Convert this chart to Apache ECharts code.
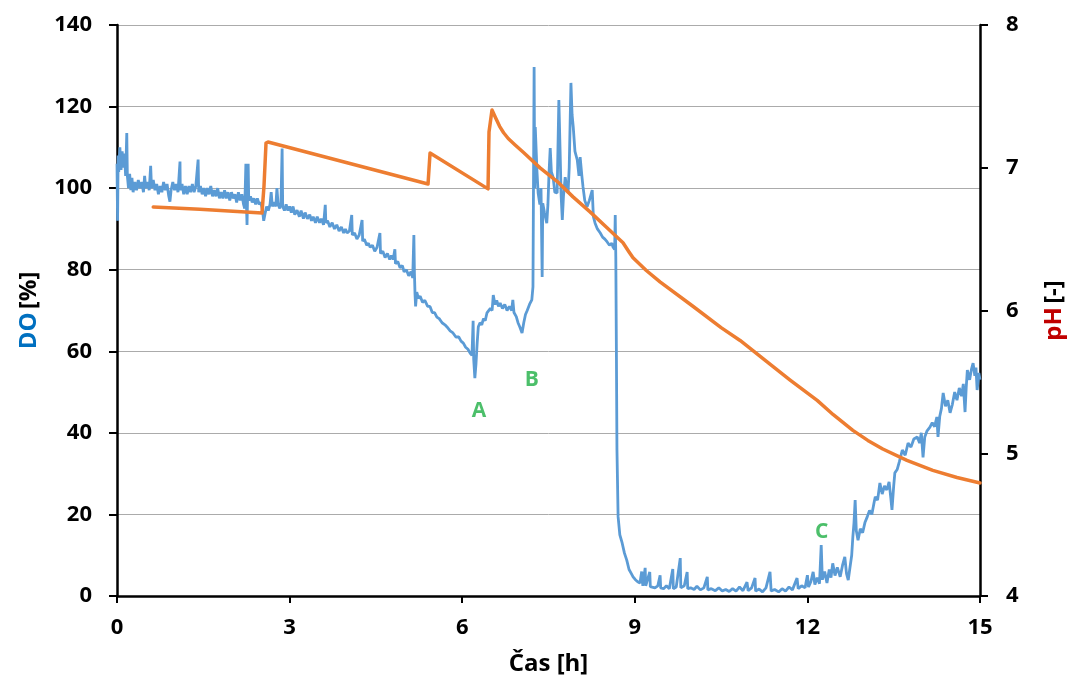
<!DOCTYPE html>
<html>
<head>
<meta charset="utf-8">
<script src="https://cdn.jsdelivr.net/npm/echarts@6/dist/echarts.min.js"></script>
<style>
html,body{margin:0;padding:0;background:#fff;overflow:hidden;}
#chart{width:1069px;height:680px;}
</style>
</head>
<body>
<div id="chart"></div>
<script>
// Time axis ticks [h]
const timeTicks = [0, 3, 6, 9, 12, 15];
// Dissolved oxygen [%] vs time [h]
const doSeries = [
[0.00,106],[0.01,92],[0.02,108],[0.03,104],[0.05,110],[0.07,104.5],[0.09,109],[0.11,105],[0.13,108.5],[0.15,103],[0.17,113.5],[0.18,103],[0.20,100],[0.22,103.5],[0.24,99.5],[0.26,102.5],[0.28,99],[0.31,101.5],[0.34,99.5],[0.37,102],[0.40,100],[0.43,101.5],[0.46,99],[0.48,103],[0.50,100],[0.53,101.5],[0.56,99.5],[0.585,105.5],[0.60,100],[0.63,102],[0.66,99.5],[0.69,101],[0.72,98.5],[0.75,100.5],[0.78,99],[0.81,101.5],[0.84,99.5],[0.87,101],[0.90,98],[0.92,96.7],[0.94,99.5],[0.97,101.5],[1.00,99.5],[1.03,101],[1.06,99],[1.095,106.5],[1.10,99.5],[1.13,101],[1.16,98.5],[1.19,100.5],[1.22,98.5],[1.25,100.5],[1.28,99],[1.31,101],[1.34,99],[1.37,100.5],[1.41,107],[1.42,99],[1.45,100.5],[1.48,98.5],[1.51,100],[1.54,98],[1.57,100],[1.60,98.5],[1.63,100.5],[1.66,98],[1.69,99.5],[1.72,98],[1.75,100],[1.78,97.5],[1.81,99],[1.84,97.5],[1.87,99.5],[1.90,97.5],[1.93,99],[1.96,97],[1.99,99],[2.02,97.5],[2.05,98.5],[2.08,96.5],[2.11,99],[2.14,97],[2.17,98.5],[2.20,96],[2.22,95],[2.24,106],[2.25,96],[2.26,91],[2.27,98],[2.28,106],[2.29,97],[2.32,98],[2.35,96.5],[2.38,97.5],[2.41,96],[2.44,97.5],[2.47,96],[2.50,96.5],[2.53,94.5],[2.55,92],[2.57,93.5],[2.60,95.5],[2.63,94.5],[2.66,96],[2.68,99],[2.70,95.5],[2.73,96.5],[2.76,95.5],[2.78,100],[2.80,96],[2.83,95],[2.85,96.5],[2.87,109.7],[2.88,95.5],[2.91,94.5],[2.94,96],[2.97,94.5],[3.00,95.5],[3.03,94],[3.06,95.5],[3.09,93.5],[3.13,94.6],[3.17,93],[3.20,94.5],[3.24,92.5],[3.27,94],[3.31,92.5],[3.35,93.5],[3.38,92],[3.41,93],[3.45,91.5],[3.48,93],[3.52,91.5],[3.55,92.5],[3.59,91],[3.62,95.9],[3.63,91.5],[3.66,92],[3.70,90.5],[3.74,91.5],[3.78,90],[3.82,91],[3.86,89.5],[3.90,90.5],[3.94,89],[3.97,90],[4.00,89],[4.04,89.5],[4.08,93.4],[4.09,88.5],[4.13,89],[4.17,87.5],[4.21,88.5],[4.26,92.2],[4.27,87],[4.30,87.5],[4.34,86],[4.37,86.5],[4.40,85.5],[4.44,86],[4.48,84.5],[4.52,85.5],[4.57,89],[4.58,84],[4.62,84.5],[4.66,83],[4.70,84],[4.74,82.5],[4.77,83.5],[4.80,82.5],[4.83,85],[4.84,81.5],[4.88,82],[4.92,80.5],[4.96,81],[4.99,79.5],[5.03,80],[5.07,78.5],[5.11,79.5],[5.14,78],[5.16,88.5],[5.17,79],[5.18,74],[5.19,71],[5.21,74.5],[5.24,73],[5.27,73.5],[5.31,72],[5.35,72.5],[5.40,71],[5.44,71],[5.48,69.5],[5.52,69.5],[5.56,68.4],[5.60,68],[5.65,67],[5.70,66.5],[5.74,65.9],[5.79,65],[5.84,64.5],[5.89,63.5],[5.94,63.5],[5.98,62.5],[6.02,62],[6.06,61],[6.10,60.5],[6.14,59.5],[6.17,59],[6.19,67.5],[6.20,58],[6.22,53.4],[6.24,57],[6.26,62],[6.28,66],[6.31,67],[6.34,66.5],[6.37,68],[6.40,67.5],[6.43,69.4],[6.46,69],[6.49,70.5],[6.52,70],[6.54,73.8],[6.57,71.5],[6.60,72.5],[6.63,71],[6.66,71.8],[6.70,70.5],[6.74,71.5],[6.78,70],[6.82,71],[6.86,70],[6.88,72.6],[6.90,69.5],[6.94,68.5],[6.97,67],[7.00,66],[7.04,64.5],[7.07,67],[7.10,69],[7.13,70],[7.17,71.5],[7.21,72.6],[7.23,75.8],[7.25,129.7],[7.26,100],[7.27,115],[7.30,104],[7.32,98.8],[7.35,96],[7.37,100],[7.39,78.2],[7.40,96.3],[7.43,94],[7.47,91.4],[7.49,96],[7.51,104],[7.53,109.8],[7.55,104],[7.58,102.7],[7.61,99],[7.65,98.8],[7.68,121.6],[7.70,110],[7.72,98],[7.74,92.2],[7.76,98],[7.79,102.7],[7.82,100],[7.84,98.8],[7.86,105],[7.89,125.8],[7.91,118],[7.93,115],[7.96,109],[8.00,106.9],[8.03,103],[8.05,107.6],[8.08,103],[8.10,100.3],[8.13,97],[8.17,95.4],[8.21,97],[8.26,99.5],[8.28,93],[8.31,91.4],[8.35,90],[8.40,89],[8.44,88],[8.48,87.5],[8.52,86.8],[8.56,86],[8.60,86.5],[8.62,85.6],[8.65,85],[8.66,93.4],[8.67,83],[8.68,60.3],[8.69,35.8],[8.71,19.4],[8.74,15],[8.78,13],[8.82,10.5],[8.86,8.8],[8.90,6.5],[8.94,5.5],[8.97,4.7],[9.01,4],[9.05,3.5],[9.09,3.2],[9.12,6],[9.14,2.5],[9.18,6.9],[9.19,2.5],[9.21,2.2],[9.26,5.9],[9.27,2.3],[9.30,2.5],[9.35,2],[9.40,2.5],[9.44,5.1],[9.45,2],[9.50,1.8],[9.55,2.5],[9.60,1.8],[9.66,6.6],[9.67,1.8],[9.72,2.2],[9.79,9.3],[9.80,2],[9.86,2.5],[9.91,5.9],[9.92,1.8],[9.97,2],[10.03,1.6],[10.08,2.4],[10.14,1.5],[10.20,2],[10.26,4.7],[10.27,1.5],[10.33,1.8],[10.40,1.3],[10.46,2],[10.52,1.2],[10.58,1.6],[10.64,1.1],[10.70,1.8],[10.76,1.2],[10.82,2.2],[10.88,1.3],[10.95,3.4],[10.97,1.3],[11.03,2],[11.09,4.4],[11.10,1.2],[11.16,1.7],[11.22,1],[11.28,2],[11.35,5.9],[11.37,1.2],[11.43,1.6],[11.50,1],[11.56,1.8],[11.62,1.2],[11.68,2.2],[11.74,1.5],[11.82,4.4],[11.84,1.8],[11.90,2.5],[11.96,2],[12.00,5.1],[12.02,2.2],[12.06,3.5],[12.10,5.9],[12.13,2.8],[12.17,4.5],[12.21,3],[12.24,12.5],[12.26,4],[12.30,6],[12.34,3.2],[12.38,6.5],[12.41,4.5],[12.44,8],[12.48,5],[12.52,7],[12.57,4.7],[12.61,7.5],[12.65,9.6],[12.68,5.5],[12.71,3.9],[12.74,7],[12.77,10],[12.79,14.5],[12.81,18],[12.83,23.5],[12.85,16],[12.88,13.7],[12.92,16.5],[12.96,15.5],[13.00,18],[13.04,19.4],[13.08,21],[13.12,20],[13.16,23],[13.18,24.3],[13.22,23.5],[13.26,27.7],[13.30,25],[13.34,27],[13.38,26],[13.42,28],[13.45,24],[13.47,21.1],[13.50,27],[13.52,30.2],[13.56,31],[13.60,33],[13.65,35.8],[13.70,34.5],[13.75,37.5],[13.80,36.5],[13.85,38.5],[13.91,39],[13.95,37.5],[13.98,40],[14.01,34],[14.04,39],[14.08,40.5],[14.13,41.4],[14.17,42.5],[14.21,41.5],[14.25,43.9],[14.27,39],[14.30,44],[14.33,46],[14.36,49.8],[14.40,46.5],[14.44,48],[14.48,44.9],[14.52,47],[14.56,50],[14.60,48],[14.64,51],[14.68,49],[14.71,52],[14.74,45.1],[14.76,51],[14.78,55.4],[14.82,53],[14.85,55.5],[14.88,57.1],[14.91,54],[14.93,56],[14.95,50.5],[14.97,53],[14.98,54.7],[15.00,53]
];
// pH [-] vs time [h]
const phSeries = [
[0.63,6.725],[1.44,6.71],[2.52,6.683],[2.555,6.872],[2.59,7.173],[2.625,7.18],[5.406,6.886],[5.441,7.103],[6.449,6.852],[6.466,7.25],[6.518,7.405],[6.58,7.35],[6.65,7.29],[6.72,7.245],[6.80,7.205],[6.92,7.16],[7.057,7.11],[7.353,6.999],[7.648,6.905],[7.926,6.796],[8.222,6.691],[8.517,6.579],[8.795,6.474],[8.90,6.41],[8.969,6.369],[9.20,6.28],[9.438,6.2],[10.01,6.03],[10.50,5.88],[10.83,5.79],[11.30,5.64],[11.70,5.513],[12.17,5.37],[12.45,5.27],[12.79,5.16],[13.05,5.09],[13.31,5.03],[13.73,4.95],[14.18,4.88],[14.60,4.83],[15.0,4.792]
];
// Point annotations (label, time [h], DO [%])
const noteLabels = ['A', 'B', 'C'];
const noteTimes = [6.29, 7.21, 12.25];
const noteDO = [45.4, 53.0, 15.7];

const FONT = '"Open Sans", Lato, sans-serif';
const chart = echarts.init(document.getElementById('chart'), null, {renderer: 'canvas'});
chart.setOption({
  animation: false,
  backgroundColor: '#ffffff',
  grid: {left: 117, right: 89, top: 25, bottom: 84, containLabel: false, outerBoundsMode: 'none'},
  xAxis: {
    type: 'value', min: 0, max: 15, interval: 3,
    name: 'Čas [h]', nameLocation: 'middle', nameGap: 56,
    nameTextStyle: {fontFamily: FONT, fontWeight: 'bold', fontSize: 24, color: '#000'},
    axisLine: {show: true, lineStyle: {color: '#000', width: 2.5}},
    axisTick: {show: true, length: 7, lineStyle: {color: '#000', width: 2}},
    axisLabel: {margin: 21, fontFamily: FONT, fontWeight: 'bold', fontSize: 22, color: '#000',
      formatter: v => timeTicks.includes(v) ? String(v) : ''},
    splitLine: {show: false}
  },
  yAxis: [{
    type: 'value', min: 0, max: 140, interval: 20, position: 'left',
    name: '{a|DO} {b|[%]}', nameLocation: 'middle', nameGap: 76, nameRotate: 90,
    nameTextStyle: {rich: {
      a: {fontFamily: FONT, fontWeight: 'bold', fontSize: 24, color: '#0070C0'},
      b: {fontFamily: FONT, fontWeight: 'bold', fontSize: 24, color: '#000'}}},
    axisLine: {show: true, lineStyle: {color: '#000', width: 2.5}},
    axisTick: {show: true, length: 8, lineStyle: {color: '#000', width: 2}},
    axisLabel: {margin: 25, fontFamily: FONT, fontWeight: 'bold', fontSize: 22, color: '#000'},
    splitLine: {show: true, lineStyle: {color: '#ababab', width: 1}}
  }, {
    type: 'value', min: 4, max: 8, interval: 1, position: 'right',
    name: '{a|pH} {b|[-]}', nameLocation: 'middle', nameGap: 62, nameRotate: 90,
    nameTextStyle: {rich: {
      a: {fontFamily: FONT, fontWeight: 'bold', fontSize: 24, color: '#C00000'},
      b: {fontFamily: FONT, fontWeight: 'bold', fontSize: 24, color: '#000'}}},
    axisLine: {show: true, lineStyle: {color: '#000', width: 2.5}},
    axisTick: {show: true, length: 8, lineStyle: {color: '#000', width: 2}},
    axisLabel: {margin: 26, fontFamily: FONT, fontWeight: 'bold', fontSize: 22, color: '#000'},
    splitLine: {show: false}
  }],
  series: [{
    type: 'line', name: 'DO', yAxisIndex: 0, data: doSeries,
    showSymbol: false, symbol: 'none',
    lineStyle: {color: '#5B9BD5', width: 2.8}, z: 2
  }, {
    type: 'line', name: 'pH', yAxisIndex: 1, data: phSeries,
    showSymbol: false, symbol: 'none',
    lineStyle: {color: '#ED7D31', width: 3.5, cap: 'round', join: 'round'}, z: 3
  }, {
    type: 'scatter', name: 'notes', yAxisIndex: 0, symbolSize: 1,
    itemStyle: {color: 'rgba(0,0,0,0)'},
    data: noteLabels.map((n, i) => ({name: n, value: [noteTimes[i], noteDO[i]]})),
    label: {show: true, position: 'inside', formatter: '{b}',
      fontFamily: FONT, fontWeight: 'bold', fontSize: 21, color: '#1FAF45'},
    z: 4, silent: true
  }]
});
</script>
</body>
</html>
